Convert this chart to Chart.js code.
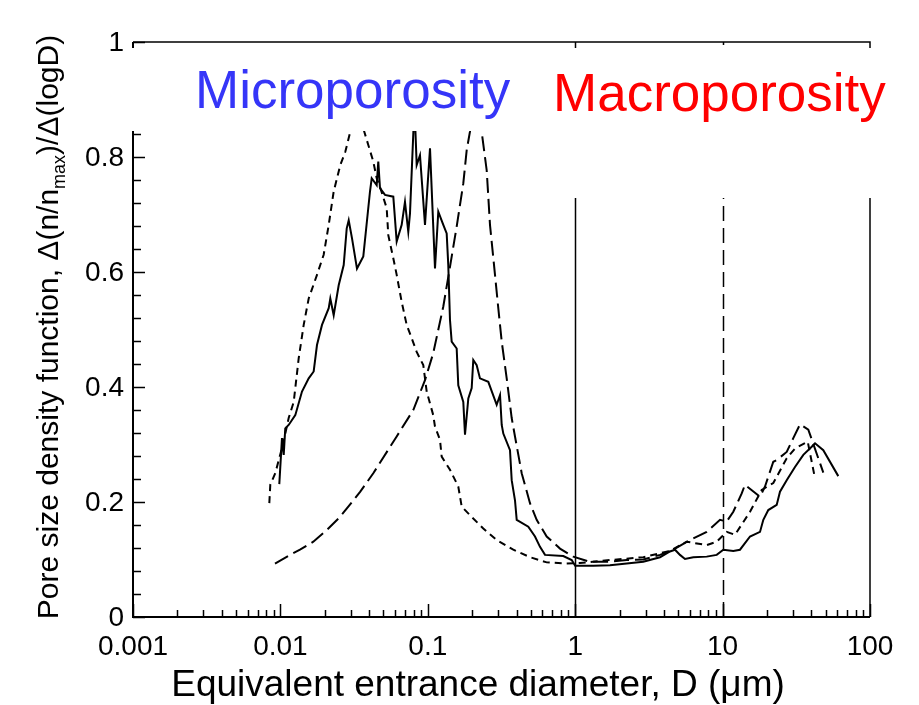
<!DOCTYPE html>
<html>
<head>
<meta charset="utf-8">
<title>Pore size density function</title>
<script src="https://cdn.jsdelivr.net/npm/chart.js@4.4.1/dist/chart.umd.min.js"></script>
<style>
  html, body { margin: 0; padding: 0; background: #fff; }
  canvas { display: block; }
</style>
</head>
<body>
<canvas id="canvas" width="919" height="705"></canvas>
<script>
// pore diameter D (um) and normalised density for the three samples
var solidD = [0.00983, 0.01025, 0.01053, 0.01079, 0.01138, 0.01262, 0.01401, 0.01556, 0.01682, 0.01771,
  0.01915, 0.02127, 0.02181, 0.02299, 0.02486, 0.02688, 0.02818, 0.02907, 0.03059, 0.03308,
  0.03651, 0.04053, 0.04163, 0.04501, 0.04614, 0.04738, 0.05124, 0.05834, 0.06151, 0.0665,
  0.07001, 0.07372, 0.07572, 0.0812, 0.08406, 0.08851, 0.09572, 0.1035, 0.1119, 0.1178,
  0.1274, 0.1343, 0.1377, 0.1414, 0.1452, 0.157, 0.161, 0.1741, 0.1788, 0.1883,
  0.1985, 0.2035, 0.2146, 0.2259, 0.2573, 0.2933, 0.309, 0.3173, 0.3253, 0.3611,
  0.3708, 0.3904, 0.401, 0.4806, 0.5337, 0.5771, 0.6239, 0.8302, 0.9467, 1.0,
  1.326, 1.722, 2.236, 2.897, 3.761, 4.397, 4.755, 5.14, 5.557, 6.326,
  7.8, 9.118, 10.11, 11.82, 13.12, 15.35, 17.94, 18.89, 20.42, 23.28,
  24.51, 27.22, 30.98, 35.28, 40.23, 42.37, 48.22, 60.94];
var solidY = [0.231, 0.311, 0.282, 0.328, 0.334, 0.351, 0.392, 0.415, 0.427, 0.473,
  0.508, 0.537, 0.554, 0.525, 0.577, 0.612, 0.676, 0.690, 0.659, 0.606,
  0.627, 0.740, 0.763, 0.751, 0.792, 0.746, 0.734, 0.731, 0.653, 0.682,
  0.722, 0.670, 0.702, 0.89, 0.786, 0.803, 0.682, 0.815, 0.606, 0.705,
  0.682, 0.667, 0.612, 0.517, 0.479, 0.467, 0.403, 0.374, 0.317, 0.380,
  0.398, 0.447, 0.438, 0.415, 0.409, 0.369, 0.386, 0.334, 0.319, 0.290,
  0.238, 0.203, 0.169, 0.157, 0.140, 0.122, 0.108, 0.106, 0.099, 0.089,
  0.089, 0.090, 0.093, 0.096, 0.104, 0.114, 0.117, 0.108, 0.101, 0.104,
  0.105, 0.108, 0.117, 0.115, 0.117, 0.140, 0.148, 0.169, 0.186, 0.195,
  0.218, 0.238, 0.261, 0.282, 0.296, 0.302, 0.290, 0.245];

var shortD = [0.00841, 0.00854, 0.00923, 0.0104, 0.01138, 0.01231, 0.01331, 0.01439, 0.01556, 0.01771,
  0.01966, 0.02127, 0.02299, 0.02549, 0.02756, 0.02979, 0.0329, 0.03708, 0.03947, 0.04268,
  0.04501, 0.04738, 0.05262, 0.05395, 0.05833, 0.06151, 0.0665, 0.0719, 0.07774, 0.08406,
  0.0932, 0.09829, 0.1089, 0.1119, 0.121, 0.1242, 0.1414, 0.161, 0.1698, 0.1985,
  0.2379, 0.2933, 0.3801, 0.4935, 0.6407, 0.8757, 1.078, 1.722, 2.897, 4.397,
  5.706, 7.8, 9.118, 10.66, 12.14, 15.35, 18.42, 22.08, 27.22, 30.98,
  37.79, 42.37];
var shortY = [0.198, 0.230, 0.250, 0.300, 0.346, 0.374, 0.450, 0.508, 0.554, 0.595,
  0.630, 0.682, 0.740, 0.786, 0.809, 0.844, 0.888, 0.844, 0.821, 0.792,
  0.763, 0.748, 0.711, 0.664, 0.624, 0.595, 0.548, 0.508, 0.485, 0.461,
  0.438, 0.392, 0.351, 0.331, 0.308, 0.279, 0.256, 0.227, 0.192, 0.174,
  0.154, 0.134, 0.117, 0.104, 0.095, 0.093, 0.094, 0.099, 0.104, 0.115,
  0.131, 0.125, 0.131, 0.148, 0.143, 0.183, 0.221, 0.233, 0.276, 0.293,
  0.305, 0.241];

var longD = [0.00919, 0.01162, 0.01358, 0.01672, 0.02061, 0.02537, 0.03483, 0.04268, 0.06151, 0.07971,
  0.09572, 0.1089, 0.1274, 0.1414, 0.157, 0.1741, 0.1836, 0.1932, 0.2116, 0.232,
  0.2509, 0.2642, 0.2857, 0.3008, 0.3173, 0.343, 0.3708, 0.3904, 0.4335, 0.4935,
  0.5478, 0.6407, 0.7886, 0.9707, 1.26, 1.636, 2.236, 2.897, 3.761, 4.63,
  6.008, 7.8, 9.603, 10.66, 11.82, 13.48, 14.19, 17.94, 19.4, 22.08,
  23.28, 27.22, 30.17, 33.5, 38.14, 48.22];
var longY = [0.093, 0.108, 0.117, 0.131, 0.151, 0.174, 0.218, 0.250, 0.314, 0.360,
  0.412, 0.459, 0.540, 0.609, 0.679, 0.754, 0.812, 0.844, 0.92, 0.844,
  0.777, 0.682, 0.595, 0.537, 0.479, 0.415, 0.346, 0.314, 0.250, 0.198,
  0.169, 0.140, 0.119, 0.105, 0.096, 0.096, 0.099, 0.100, 0.108, 0.117,
  0.134, 0.148, 0.169, 0.166, 0.183, 0.215, 0.230, 0.209, 0.227, 0.270,
  0.273, 0.287, 0.311, 0.335, 0.326, 0.251];

// axes
var xTickValues = [0.001, 0.01, 0.1, 1, 10, 100];
var xTickLabels = ['0.001', '0.01', '0.1', '1', '10', '100'];
var yTickValues = [0, 0.2, 0.4, 0.6, 0.8, 1];
var yTickLabels = ['0', '0.2', '0.4', '0.6', '0.8', '1'];
var boundaryD = [1, 10];   // micro / macro limits

var FONT = '"Liberation Sans", Arial, Helvetica, sans-serif';

function toPoints(xs, ys) {
  return xs.map(function (d, i) { return { x: d, y: ys[i] }; });
}

var poreAxes = {
  id: 'poreAxes',
  afterDraw: function (chart) {
    var ctx = chart.ctx;
    var a = chart.chartArea;
    var xs = chart.scales.x;
    var ys = chart.scales.y;
    ctx.save();
    ctx.strokeStyle = '#000';
    ctx.fillStyle = '#000';

    // boundary lines at 1 um (solid) and 10 um (dashed)
    ctx.lineWidth = 1.5;
    boundaryD.forEach(function (d, i) {
      var px = Math.round(xs.getPixelForValue(d)) + 0.5;
      ctx.setLineDash(i === 0 ? [] : [15, 7]);
      ctx.beginPath();
      ctx.moveTo(px, a.bottom);
      ctx.lineTo(px, a.top);
      ctx.stroke();
    });
    ctx.setLineDash([]);

    // frame
    ctx.lineWidth = 1.5;
    ctx.beginPath();
    ctx.moveTo(a.left, a.top);
    ctx.lineTo(a.right, a.top);
    ctx.lineTo(a.right, a.bottom);
    ctx.stroke();
    ctx.lineWidth = 2;
    ctx.beginPath();
    ctx.moveTo(a.left, a.top);
    ctx.lineTo(a.left, a.bottom);
    ctx.lineTo(a.right, a.bottom);
    ctx.stroke();

    // x ticks, inward
    ctx.lineWidth = 1.5;
    ctx.beginPath();
    for (var dec = 0.001; dec < 99; dec *= 10) {
      for (var k = 1; k <= 10; k++) {
        var v = dec * k;
        var px = Math.round(xs.getPixelForValue(v)) + 0.5;
        var len = (k === 1 || k === 10) ? 13 : 7;
        ctx.moveTo(px, a.bottom);
        ctx.lineTo(px, a.bottom - len);
      }
    }
    // y ticks, inward, minor every 0.04
    for (var j = 0; j <= 25; j++) {
      var py = Math.round(ys.getPixelForValue(j * 0.04)) + 0.5;
      var l = (j % 5 === 0) ? 12 : 8;
      ctx.moveTo(a.left, py);
      ctx.lineTo(a.left + l, py);
    }
    ctx.stroke();

    // label backgrounds cover the lines behind them
    ctx.fillStyle = '#fff';
    ctx.fillRect(128, 48, 394, 83);
    ctx.fillRect(540, 48, 345, 150);

    // tick labels
    ctx.fillStyle = '#000';
    ctx.font = '28px ' + FONT;
    ctx.textAlign = 'center';
    ctx.textBaseline = 'alphabetic';
    xTickValues.forEach(function (v, i) {
      ctx.fillText(xTickLabels[i], xs.getPixelForValue(v), 655);
    });
    ctx.textAlign = 'right';
    ctx.textBaseline = 'middle';
    yTickValues.forEach(function (v, i) {
      ctx.fillText(yTickLabels[i], 124, ys.getPixelForValue(v) + 1);
    });

    // x title
    ctx.textAlign = 'center';
    ctx.textBaseline = 'alphabetic';
    ctx.font = '37px ' + FONT;
    ctx.fillText('Equivalent entrance diameter, D (\u03bcm)', 478, 696);

    // y title with subscript
    var big = '30px ' + FONT;
    var small = '18px ' + FONT;
    var parts = [
      { t: 'Pore size density function, \u0394(n/n', f: big, dy: 0 },
      { t: 'max', f: small, dy: 7 },
      { t: ')/\u0394(logD)', f: big, dy: 0 }
    ];
    var total = 0;
    parts.forEach(function (p) { ctx.font = p.f; p.w = ctx.measureText(p.t).width; total += p.w; });
    ctx.save();
    ctx.translate(58, 327);
    ctx.rotate(-Math.PI / 2);
    ctx.textAlign = 'left';
    var cx = -total / 2;
    parts.forEach(function (p) {
      ctx.font = p.f;
      ctx.fillText(p.t, cx, p.dy);
      cx += p.w;
    });
    ctx.restore();

    // region labels
    ctx.font = '53px ' + FONT;
    ctx.textAlign = 'left';
    ctx.fillStyle = '#3535f8';
    ctx.fillText('Microporosity', 195, 108);
    ctx.fillStyle = '#ff0000';
    ctx.fillText('Macroporosity', 553, 111);

    ctx.restore();
  }
};

var ctx = document.getElementById('canvas');

new Chart(ctx, {
  type: 'line',
  data: {
    datasets: [{
      label: 'solid',
      data: toPoints(solidD, solidY),
      borderColor: '#000',
      borderWidth: 2,
      pointRadius: 0,
      tension: 0
    }, {
      label: 'short dash',
      data: toPoints(shortD, shortY),
      borderColor: '#000',
      borderWidth: 2,
      borderDash: [7, 5],
      pointRadius: 0,
      tension: 0
    }, {
      label: 'long dash',
      data: toPoints(longD, longY),
      borderColor: '#000',
      borderWidth: 2,
      borderDash: [15, 6],
      pointRadius: 0,
      tension: 0
    }]
  },
  options: {
    responsive: false,
    devicePixelRatio: 1,
    animation: false,
    layout: { padding: { left: 133, right: 49, top: 42, bottom: 88 } },
    scales: {
      x: { type: 'logarithmic', min: 0.001, max: 100, display: false },
      y: { type: 'linear', min: 0, max: 1, display: false }
    },
    plugins: {
      legend: { display: false },
      tooltip: { enabled: false }
    }
  },
  plugins: [poreAxes]
});
</script>
</body>
</html>
